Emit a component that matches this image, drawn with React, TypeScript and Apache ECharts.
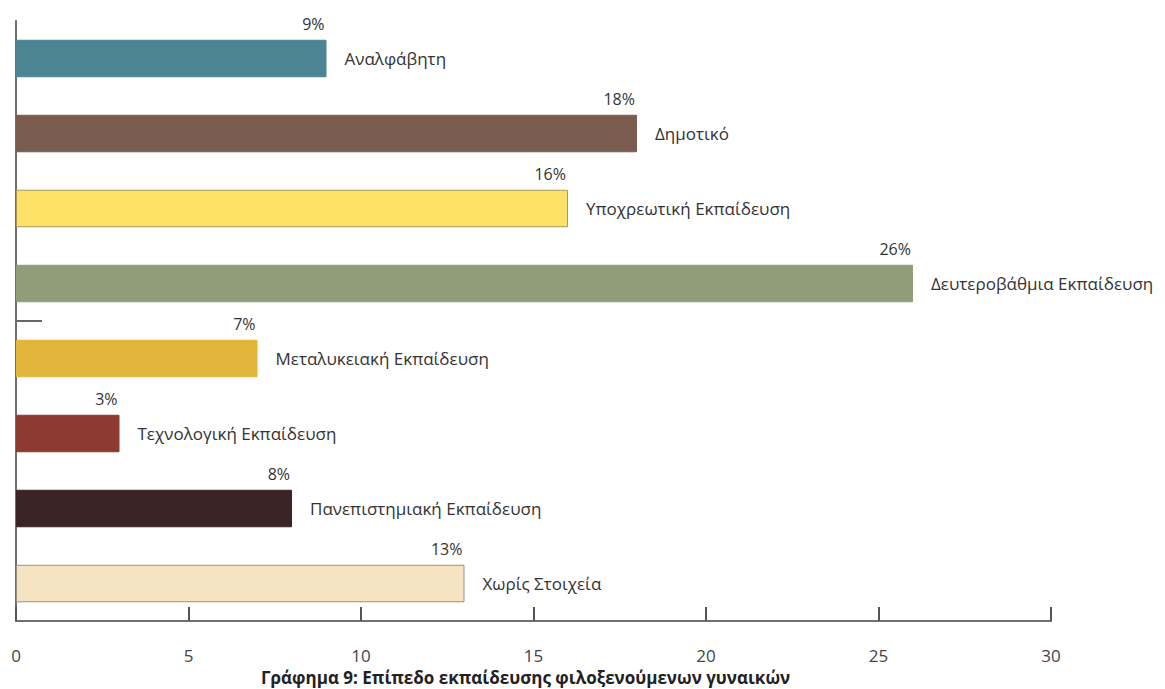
import React, { useEffect, useRef } from "react";
import * as echarts from "echarts";

const categories = [
  "Αναλφάβητη",
  "Δημοτικό",
  "Υποχρεωτική Εκπαίδευση",
  "Δευτεροβάθμια Εκπαίδευση",
  "Μεταλυκειακή Εκπαίδευση",
  "Τεχνολογική Εκπαίδευση",
  "Πανεπιστημιακή Εκπαίδευση",
  "Χωρίς Στοιχεία",
];
const values = [9, 18, 16, 26, 7, 3, 8, 13];
const colors = [
  "#4B8593",
  "#7A5C4F",
  "#FDE166",
  "#919C78",
  "#E0B53A",
  "#8C3A32",
  "#3B2326",
  "#F5E3C2",
];
const borders = [
  "#4B8593",
  "#7A5C4F",
  "#A89A5A",
  "#919C78",
  "#E0B53A",
  "#8C3A32",
  "#3B2326",
  "#9A9080",
];
const xTicks = [0, 5, 10, 15, 20, 25, 30];
const caption = "Γράφημα 9: Επίπεδο εκπαίδευσης φιλοξενούμενων γυναικών";

const FONT = "'Open Sans', 'Noto Sans', sans-serif";

export default function App() {
  const ref = useRef<HTMLDivElement>(null);
  useEffect(() => {
    if (!ref.current) return;
    const chart = echarts.init(ref.current, null, { renderer: "svg" });
    chart.setOption({
      animation: false,
      backgroundColor: "#ffffff",
      textStyle: { fontFamily: FONT },
      grid: { left: 16, right: 114, top: 21, bottom: 68, containLabel: false },
      xAxis: {
        type: "value",
        min: xTicks[0],
        max: xTicks[xTicks.length - 1],
        interval: 5,
        splitLine: { show: false },
        axisLine: { show: true, lineStyle: { color: "#6f6f6f", width: 2 } },
        axisTick: { show: true, inside: true, length: 14, lineStyle: { color: "#555", width: 2 } },
        axisLabel: { color: "#444", fontSize: 17, margin: 26, fontFamily: FONT },
      },
      yAxis: {
        type: "category",
        data: categories,
        inverse: true,
        axisLine: { show: true, lineStyle: { color: "#6f6f6f", width: 2 } },
        axisTick: { show: false },
        axisLabel: { show: false },
      },
      series: [
        {
          type: "bar",
          barWidth: "50%",
          data: values.map((v, i) => ({
            value: v,
            itemStyle: { color: colors[i], borderColor: borders[i], borderWidth: 1 },
          })),
          label: {
            show: true,
            position: ["100%", 0],
            align: "right",
            verticalAlign: "bottom",
            offset: [-2, -8],
            formatter: (p: any) => p.value + "%",
            color: "#333",
            fontSize: 16,
            fontFamily: FONT,
          },
          z: 3,
        },
        {
          type: "bar",
          barWidth: "50%",
          barGap: "-100%",
          data: values,
          itemStyle: { color: "rgba(0,0,0,0)" },
          label: {
            show: true,
            position: "right",
            distance: 18,
            formatter: (p: any) => categories[p.dataIndex],
            color: "#333",
            fontSize: 17,
            fontFamily: FONT,
          },
          silent: true,
          z: 2,
        },
      ],
      graphic: [
        {
          type: "line",
          shape: { x1: 16, y1: 321, x2: 42, y2: 321 },
          style: { stroke: "#333", lineWidth: 1.5 },
        },
        {
          type: "text",
          left: 261,
          top: 669,
          style: {
            text: caption,
            font: "bold 17px " + FONT,
            fill: "#222",
          },
        },
      ],
    });
    return () => chart.dispose();
  }, []);
  return <div ref={ref} style={{ width: 1165, height: 689, position: "absolute", left: 0, top: 0 }} />;
}
